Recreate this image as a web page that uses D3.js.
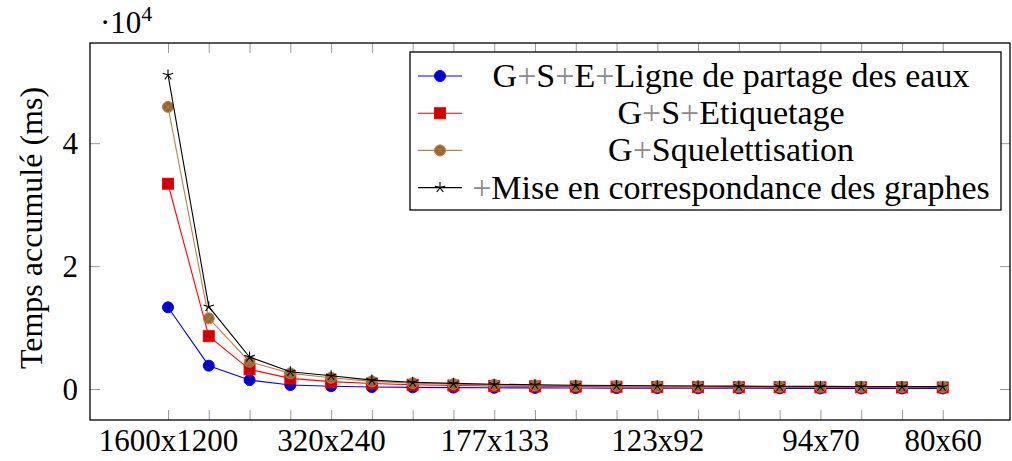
<!DOCTYPE html>
<html>
<head>
<meta charset="utf-8">
<script src="https://cdn.jsdelivr.net/npm/d3@7"></script>
<style>
  html, body { margin: 0; padding: 0; background: #fff; }
</style>
</head>
<body>
<svg id="chart" width="1012" height="461"></svg>
<script>
// Image resolutions (one point per resolution)
const resolutions = ["1600x1200","1200x900","800x600","400x300","320x240","267x200",
  "229x171","200x150","177x133","160x120","145x109","133x100","123x92","114x85",
  "107x80","100x75","94x70","89x67","84x63","80x60"];
// Resolutions shown on the x axis
const xTickLabels = ["1600x1200","320x240","177x133","123x92","94x70","80x60"];
const yTicks = [0, 20000, 40000];

// Cumulative time (ms) per processing chain
const watershed = [13300, 3800, 1460, 650, 460, 330, 270, 230, 200, 180, 160, 150, 140, 130, 120, 110, 105, 100, 95, 90];
const labelling = [33400, 8600, 3200, 1740, 1200, 900, 700, 580, 500, 440, 400, 370, 340, 320, 300, 290, 280, 270, 260, 250];
const skeleton  = [45900, 11500, 4450, 2550, 1840, 1250, 950, 800, 680, 600, 540, 500, 460, 430, 410, 390, 370, 360, 350, 340];
const matching  = [51100, 13400, 5200, 2800, 2150, 1450, 1100, 920, 780, 690, 620, 570, 530, 500, 470, 450, 430, 410, 400, 390];

const seriesNames = ["G+S+E+Ligne de partage des eaux", "G+S+Etiquetage", "G+Squelettisation",
  "+Mise en correspondance des graphes"];

const series = [
  { name: seriesNames[0], values: watershed, line: "#0000ff", fill: "#0000cc", mark: "circle" },
  { name: seriesNames[1], values: labelling, line: "#ff0000", fill: "#cc0000", mark: "square" },
  { name: seriesNames[2], values: skeleton,  line: "#bf8040", fill: "#996633", mark: "otimes" },
  { name: seriesNames[3], values: matching,  line: "#000000", fill: "#000000", mark: "star" }
];

const FONT = '"Liberation Serif", "DejaVu Serif", serif';
const FS = 31;

const svg = d3.select("#chart").attr("font-family", FONT);
const plot = { left: 90, right: 1010, top: 43, bottom: 420 };

const x = d3.scaleLinear().domain([-1.913, 20.65]).range([plot.left, plot.right]);
const y = d3.scaleLinear().domain([-5040, 56300]).range([plot.bottom, plot.top]);

const tickGray = "#9a9a9a";
const idx = d3.range(resolutions.length);

// Ticks along bottom and top edges
const xBottom = d3.axisBottom(x).tickValues(idx).tickSize(-10)
  .tickFormat(i => xTickLabels.includes(resolutions[i]) ? resolutions[i] : "");
const gxb = svg.append("g").attr("transform", `translate(0,${plot.bottom})`).call(xBottom)
  .attr("font-family", FONT).attr("font-size", FS);
gxb.select(".domain").remove();
gxb.selectAll(".tick line").attr("stroke", tickGray);
gxb.selectAll(".tick text").attr("dy", 0).attr("y", 31);

const xTop = d3.axisTop(x).tickValues(idx).tickSize(-10).tickFormat("");
const gxt = svg.append("g").attr("transform", `translate(0,${plot.top})`).call(xTop);
gxt.select(".domain").remove();
gxt.selectAll(".tick line").attr("stroke", tickGray);

// Ticks along left and right edges
const yLeft = d3.axisLeft(y).tickValues(yTicks).tickSize(-10).tickFormat(d => d / 10000);
const gyl = svg.append("g").attr("transform", `translate(${plot.left},0)`).call(yLeft)
  .attr("font-family", FONT).attr("font-size", FS);
gyl.select(".domain").remove();
gyl.selectAll(".tick line").attr("stroke", tickGray);
gyl.selectAll(".tick text").attr("x", -12).attr("dy", "0.34em");

const yRight = d3.axisRight(y).tickValues(yTicks).tickSize(-10).tickFormat("");
const gyr = svg.append("g").attr("transform", `translate(${plot.right},0)`).call(yRight);
gyr.select(".domain").remove();
gyr.selectAll(".tick line").attr("stroke", tickGray);

// Frame
svg.append("rect")
  .attr("x", plot.left).attr("y", plot.top)
  .attr("width", plot.right - plot.left).attr("height", plot.bottom - plot.top)
  .attr("fill", "none").attr("stroke", "#000").attr("stroke-width", 1.3);

// Scale factor above the y axis
const mult = svg.append("text").attr("x", 100).attr("y", 33).attr("font-size", FS);
mult.append("tspan").text("\u00b710");
mult.append("tspan").attr("font-size", 22).attr("dy", -12).text("4");

// Y axis title
svg.append("text")
  .attr("transform", `translate(42,228) rotate(-90)`)
  .attr("text-anchor", "middle").attr("font-size", 32)
  .text("Temps accumulé (ms)");

// Marker drawing
function drawMark(g, s, cx, cy) {
  const r = 5.5;
  if (s.mark === "circle") {
    g.append("circle").attr("cx", cx).attr("cy", cy).attr("r", r)
      .attr("fill", s.fill).attr("stroke", s.line).attr("stroke-width", 1);
  } else if (s.mark === "square") {
    g.append("rect").attr("x", cx - r).attr("y", cy - r).attr("width", 2 * r).attr("height", 2 * r)
      .attr("fill", s.fill).attr("stroke", s.line).attr("stroke-width", 1);
  } else if (s.mark === "otimes") {
    g.append("circle").attr("cx", cx).attr("cy", cy).attr("r", r)
      .attr("fill", s.fill).attr("stroke", s.line).attr("stroke-width", 1);
    const d = r * 0.7;
    g.append("path")
      .attr("d", `M${cx - d},${cy - d}L${cx + d},${cy + d}M${cx - d},${cy + d}L${cx + d},${cy - d}`)
      .attr("stroke", s.line).attr("stroke-width", 0.8);
  } else if (s.mark === "star") {
    let p = "";
    for (let k = 0; k < 5; k++) {
      const a = -Math.PI / 2 + k * 2 * Math.PI / 5;
      p += `M${cx},${cy}L${cx + r * Math.cos(a)},${cy + r * Math.sin(a)}`;
    }
    g.append("path").attr("d", p).attr("stroke", s.line).attr("stroke-width", 1.1).attr("fill", "none");
  }
}

const line = d3.line().x((d, i) => x(i)).y(d => y(d));

series.forEach(s => {
  const g = svg.append("g");
  g.append("path").datum(s.values).attr("d", line)
    .attr("fill", "none").attr("stroke", s.line).attr("stroke-width", 1.1);
  s.values.forEach((v, i) => drawMark(g, s, x(i), y(v)));
});

// Legend
const legend = { left: 410, top: 52, width: 591, height: 158, rowH: 37.2 };
svg.append("rect")
  .attr("x", legend.left).attr("y", legend.top)
  .attr("width", legend.width).attr("height", legend.height)
  .attr("fill", "#fff").attr("stroke", "#000").attr("stroke-width", 1.3);

series.forEach((s, k) => {
  const cy = legend.top + 24 + k * legend.rowH;
  const g = svg.append("g");
  g.append("line").attr("x1", legend.left + 8).attr("x2", legend.left + 52)
    .attr("y1", cy).attr("y2", cy).attr("stroke", s.line).attr("stroke-width", 1.1);
  drawMark(g, s, legend.left + 30, cy);
  const t = g.append("text").attr("x", 731).attr("y", cy + 11)
    .attr("text-anchor", "middle").attr("font-size", 34);
  s.name.split(/(\+)/).filter(p => p.length).forEach(part => {
    const ts = t.append("tspan").text(part);
    if (part === "+") ts.attr("fill", "#8c8c8c");
  });
});
</script>
</body>
</html>
